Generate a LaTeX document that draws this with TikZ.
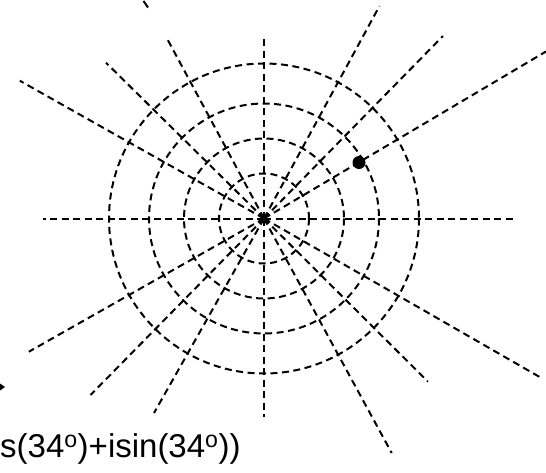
\documentclass[tikz,border=0pt]{standalone}
\usepackage{fontspec}
\setmainfont{Liberation Sans}
\begin{document}
\begin{tikzpicture}[x=1pt,y=-1pt,
  ray/.style={draw=black,line width=2pt,dash pattern=on 7pt off 4.5pt},
  ring/.style={draw=black,line width=2pt,dash pattern=on 7pt off 4.5pt},
  pointdot/.style={circle,fill=black,inner sep=0pt,minimum size=13pt},
  lbl/.style={font=\fontsize{33}{39}\selectfont,inner sep=0pt,anchor=base west}]
\useasboundingbox (0,0) rectangle (546,472);
\coordinate (O) at (264,218.5);
\foreach \r in {45,80,115,155} \draw[ring] (O) circle[radius=\r];
\coordinate (E0) at (517,218.5);
\coordinate (E30) at (546,51.5);
\coordinate (E45) at (443,36);
\coordinate (E60) at (379.5,6);
\coordinate (E90) at (264,39);
\coordinate (E120) at (167.8,40);
\coordinate (E135) at (106,62.7);
\coordinate (E150) at (19.8,80.7);
\coordinate (E180) at (42.5,218.5);
\coordinate (E210) at (28.9,351.7);
\coordinate (E225) at (90.5,395);
\coordinate (E240) at (154,413);
\coordinate (E270) at (264,417);
\coordinate (E300) at (391.7,453);
\coordinate (E315) at (428,381.7);
\coordinate (E330) at (541.4,378);
\foreach \e in {E0,E30,E45,E60,E90,E120,E135,E150,E180,E210,E225,E240,E270,E300,E315,E330}
  \draw[ray] (O) -- (\e);
\coordinate (T1) at (143.5,1);
\coordinate (T2) at (148,7.5);
\draw[line width=2pt] (T1) -- (T2);
\coordinate (A) at (5,387);
\fill[black] (A) -- ++(-5,-3.5) -- ++(0,7) -- cycle;
\node[pointdot] (P) at (359,162.5) {};
\node[lbl] (L) at (0,457) {s(34\textsuperscript{o})+isin(34\textsuperscript{o}))};
\end{tikzpicture}
\end{document}
